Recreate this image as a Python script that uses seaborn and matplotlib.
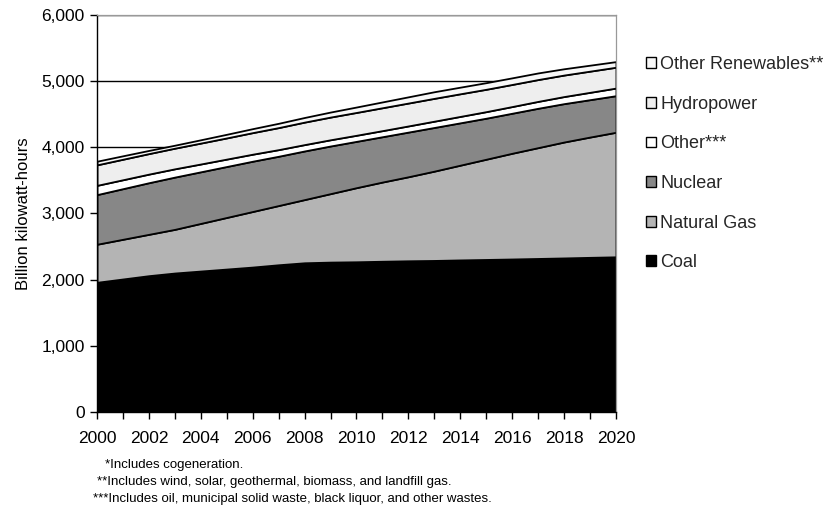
import numpy as np
import matplotlib
matplotlib.use("Agg")
from matplotlib import pyplot as plt
from matplotlib.patches import Patch
from matplotlib.ticker import FuncFormatter, MultipleLocator
import seaborn as sns

years = list(range(2000, 2021))

# cumulative tops, turned into layer values below
coal = [1960, 2010, 2060, 2100, 2130, 2160, 2190, 2225, 2255, 2265, 2270,
        2278, 2285, 2290, 2298, 2305, 2312, 2320, 2328, 2337, 2345]
gas_top = [2535, 2610, 2685, 2760, 2850, 2940, 3030, 3120, 3210, 3300, 3390,
           3475, 3555, 3640, 3730, 3820, 3910, 3995, 4080, 4155, 4227]
nuclear_top = [3285, 3375, 3465, 3550, 3630, 3710, 3790, 3865, 3945, 4020, 4090,
               4160, 4230, 4300, 4370, 4440, 4515, 4590, 4660, 4720, 4780]
other = [140, 135, 130, 125, 118, 112, 106, 100, 96, 94, 92,
         92, 93, 95, 97, 99, 101, 104, 107, 111, 115]
hydro = [310, 310, 310, 312, 316, 320, 326, 333, 340, 343, 345,
         346, 346, 345, 342, 338, 334, 330, 325, 320, 315]
renewables = [55, 52, 48, 45, 50, 55, 60, 65, 70, 76, 82,
              88, 94, 100, 100, 100, 100, 100, 95, 90, 85]

gas = list(np.array(gas_top) - np.array(coal))
nuclear = list(np.array(nuclear_top) - np.array(gas_top))

labels = ['Coal', 'Natural Gas', 'Nuclear', 'Other***', 'Hydropower',
          'Other Renewables**']
colors = ['#000000', '#b4b4b4', '#878787', '#ffffff', '#eeeeee', '#f8f8f8']

sns.set_theme(style='ticks')
plt.rcParams['font.family'] = ['Liberation Sans', 'DejaVu Sans']

fig = plt.figure(figsize=(8.25, 5.16), dpi=100)
ax = fig.add_axes([0.1176, 0.2016, 0.629, 0.7694])

ax.yaxis.grid(True, color='black', linewidth=1.0)
ax.set_axisbelow(True)

ax.stackplot(years, coal, gas, nuclear, other, hydro, renewables,
             colors=colors, edgecolor='black', linewidth=1.3, zorder=2)

ax.set_xlim(2000, 2020)
ax.set_ylim(0, 6000)
ax.xaxis.set_major_locator(MultipleLocator(2))
ax.xaxis.set_minor_locator(MultipleLocator(1))
ax.yaxis.set_major_locator(MultipleLocator(1000))
ax.yaxis.set_major_formatter(FuncFormatter(lambda v, p: f'{int(v):,}'))

ax.tick_params(axis='both', which='both', direction='out', color='black',
               labelsize=12.5, labelcolor='black', width=1.0)
ax.tick_params(axis='x', which='both', length=5, pad=9)
ax.tick_params(axis='y', which='major', length=5, pad=4)

for side in ['left', 'bottom']:
    ax.spines[side].set_color('black')
    ax.spines[side].set_linewidth(1.0)
for side in ['top', 'right']:
    ax.spines[side].set_color('#999999')
    ax.spines[side].set_linewidth(0.9)
    ax.spines[side].set_visible(True)

ax.set_ylabel('Billion kilowatt-hours', fontsize=12, color='black', labelpad=7)

handles = [Patch(facecolor=c, edgecolor='black', linewidth=1.0) for c in colors]
fig.legend(handles[::-1], labels[::-1], loc='upper left',
           bbox_to_anchor=(0.774, 0.905), frameon=False, fontsize=13,
           handlelength=0.55, handleheight=0.55, handletextpad=0.25,
           labelspacing=1.25, borderaxespad=0)

notes = ['*Includes cogeneration.',
         '**Includes wind, solar, geothermal, biomass, and landfill gas.',
         '***Includes oil, municipal solid waste, black liquor, and other wastes.']
note_x = [105, 97, 93]
note_y = [465, 482, 499]
for txt, x, y in zip(notes, note_x, note_y):
    fig.text(x / 825, 1 - y / 516, txt, fontsize=9.5, color='black',
             ha='left', va='center')

fig.savefig('out.png', dpi=100)
